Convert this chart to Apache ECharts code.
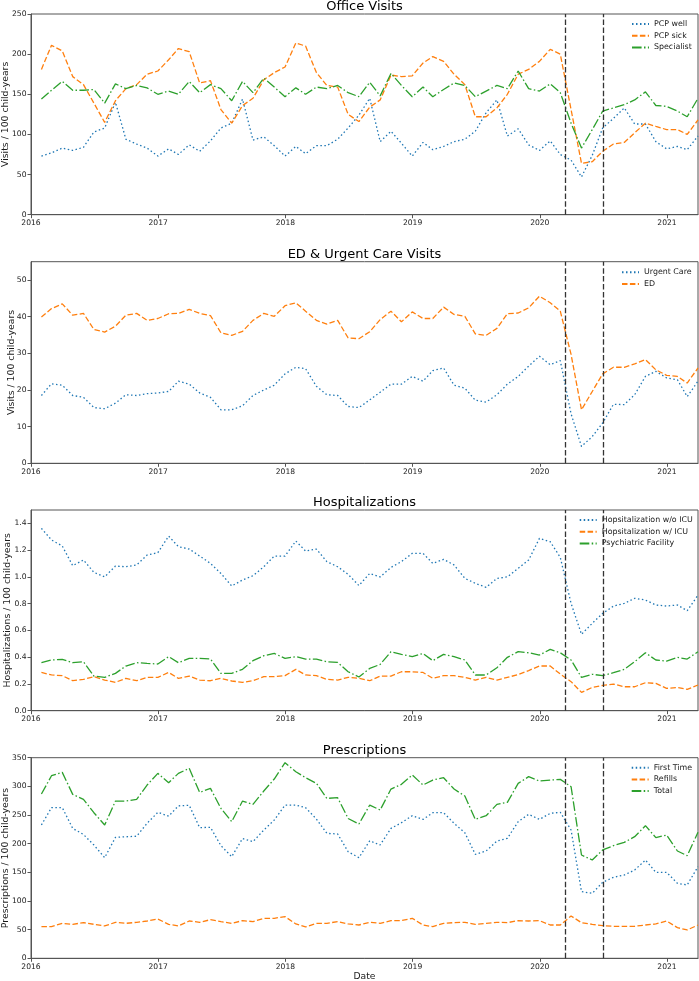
<!DOCTYPE html>
<html>
<head>
<meta charset="utf-8">
<script src="https://cdn.jsdelivr.net/npm/echarts@6/dist/echarts.min.js"></script>
<style>
html,body{margin:0;padding:0;background:#fff;}
#chart{width:699px;height:981px;}
</style>
</head>
<body>
<div id="chart"></div>
<script>
// ---------- DATA ----------
const startMonth = '2016-01';
const monthCount = 63; // 2016-01 .. 2021-03 (month-end values)
const yearTicks = [2016, 2017, 2018, 2019, 2020, 2021];
const lockdownDates = ['2020-03-15', '2020-07-01'];

const pcpWell = [73, 77, 83, 80, 84, 103, 108, 140, 94, 88, 83, 73,
  82, 75, 87, 79, 92, 108, 114, 144, 93, 97, 86, 73,
  85, 76, 86, 86, 94, 108, 124, 145, 91, 104, 89, 73,
  90, 81, 85, 91, 94, 104, 127, 143, 98, 107, 87, 80,
  92, 75, 68, 47, 74, 108, 120, 133, 113, 113, 91, 82,
  85, 81, 98];
const pcpSick = [181, 211, 204, 172, 162, 139, 115, 142, 157, 162, 175, 179,
  193, 207, 203, 164, 167, 131, 114, 136, 145, 168, 177, 184,
  214, 210, 177, 161, 159, 125, 116, 134, 143, 174, 172, 173,
  189, 197, 191, 175, 162, 122, 122, 133, 150, 175, 181, 191,
  206, 200, 131, 64, 66, 79, 88, 90, 102, 114, 110, 106,
  106, 100, 118];
const specialist = [144, 155, 166, 155, 155, 156, 139, 163, 157, 161, 158, 150,
  154, 150, 166, 152, 162, 157, 142, 166, 152, 170, 159, 147,
  158, 150, 159, 157, 161, 152, 147, 165, 148, 176, 161, 147,
  159, 147, 156, 164, 161, 147, 154, 161, 157, 179, 157, 154,
  163, 152, 114, 83, 106, 129, 133, 137, 143, 153, 136, 135,
  129, 122, 145];

const urgentCare = [18.5, 21.7, 21.3, 18.5, 18, 15.2, 14.9, 16.4, 18.7, 18.5, 19, 19.2,
  19.6, 22.4, 21.6, 19.2, 18, 14.6, 14.6, 15.7, 18.5, 20, 21.3, 24.4,
  26.2, 25.8, 21, 18.7, 18.5, 15.5, 15.2, 17.3, 19.4, 21.6, 21.6, 23.7,
  22.4, 25.3, 26, 21.3, 20.5, 17.2, 16.7, 18.7, 21.6, 23.7, 26.5, 29.2,
  26.9, 28, 13.5, 4.6, 7.3, 11, 16.1, 16, 18.7, 23.7, 25.1, 23.3,
  22.8, 18.2, 22.4];
const edVisits = [39.9, 42.2, 43.5, 40.4, 40.9, 36.5, 35.8, 37.4, 40.4, 40.9, 39, 39.5,
  40.8, 40.9, 42, 40.9, 40.3, 35.6, 34.9, 36, 39, 40.9, 40.1, 43,
  43.8, 41.5, 39, 38, 39, 34.2, 34, 35.9, 39.2, 41.5, 38.6, 41.3,
  39.5, 39.5, 42.6, 40.6, 40.1, 35.3, 34.9, 36.8, 40.8, 41, 42.4, 45.6,
  43.8, 41.5, 29.7, 14.6, 19.6, 24.4, 26.2, 26.2, 27.1, 28.3, 25.5, 24,
  23.7, 21.9, 26];

const hospNoIcu = [1.363, 1.276, 1.231, 1.084, 1.126, 1.034, 1.0, 1.081, 1.076, 1.089, 1.163, 1.181,
  1.305, 1.226, 1.208, 1.156, 1.101, 1.026, 0.932, 0.977, 1.009, 1.076, 1.156, 1.156,
  1.268, 1.193, 1.208, 1.114, 1.076, 1.019, 0.935, 1.026, 1.0, 1.071, 1.114, 1.176,
  1.176, 1.101, 1.131, 1.089, 0.989, 0.952, 0.922, 0.989, 1.0, 1.064, 1.126, 1.288,
  1.263, 1.146, 0.802, 0.571, 0.653, 0.727, 0.782, 0.802, 0.84, 0.827, 0.79, 0.782,
  0.79, 0.747, 0.864];
const hospIcu = [0.286, 0.267, 0.262, 0.224, 0.234, 0.254, 0.229, 0.212, 0.242, 0.224, 0.249, 0.249,
  0.286, 0.242, 0.259, 0.229, 0.224, 0.242, 0.222, 0.212, 0.224, 0.254, 0.254, 0.262,
  0.309, 0.267, 0.262, 0.234, 0.229, 0.249, 0.242, 0.224, 0.259, 0.259, 0.291, 0.291,
  0.286, 0.242, 0.262, 0.262, 0.249, 0.229, 0.249, 0.229, 0.249, 0.27, 0.30, 0.334,
  0.334, 0.274, 0.217, 0.137, 0.174, 0.189, 0.199, 0.179, 0.179, 0.209, 0.204, 0.167,
  0.174, 0.159, 0.192];
const psychFacility = [0.359, 0.379, 0.384, 0.359, 0.366, 0.259, 0.249, 0.279, 0.334, 0.359, 0.354, 0.349,
  0.404, 0.359, 0.391, 0.391, 0.386, 0.279, 0.279, 0.309, 0.374, 0.411, 0.428, 0.391,
  0.404, 0.386, 0.386, 0.366, 0.361, 0.291, 0.252, 0.316, 0.346, 0.441, 0.421, 0.404,
  0.428, 0.374, 0.421, 0.404, 0.379, 0.267, 0.267, 0.321, 0.399, 0.441, 0.433, 0.416,
  0.458, 0.433, 0.379, 0.249, 0.272, 0.262, 0.284, 0.309, 0.366, 0.433, 0.379, 0.371,
  0.399, 0.386, 0.441];

const firstTime = [232.6, 263, 262.8, 226.7, 216, 197.7, 175.6, 211, 212, 213, 235.5, 254.7,
  248, 266, 266.9, 228, 228.5, 196.5, 177.3, 209, 203.5, 223.8, 241.3, 267.4,
  267.4, 262.8, 243, 218, 216.9, 186, 175.6, 205, 197.7, 226.7, 236.6, 248.8,
  242.4, 254, 254, 235.5, 219, 181.4, 187.2, 204.7, 209.3, 238.4, 251.2, 242.4,
  252.9, 254.7, 223.8, 116.3, 113.4, 132.6, 141.3, 145.3, 154, 171.5, 150, 150,
  130.8, 127.9, 160];
const refills = [55.2, 55.2, 61, 59.3, 62.2, 59.3, 56.4, 62.8, 61, 62.8, 65.1, 68.6,
  59.3, 56.4, 65.1, 62.8, 67.4, 64, 61, 65.7, 64, 69.8, 69.8, 72.7,
  59.9, 54.7, 61, 61, 64, 59.9, 58.1, 62.8, 61, 65.7, 65.7, 69.8,
  58.1, 55.2, 61, 62.2, 62.8, 59.3, 61, 62.8, 62.2, 65.7, 65.1, 65.7,
  58.1, 58.1, 73.8, 62.2, 59.3, 57, 55.8, 55.8, 55.8, 58.1, 59.9, 65.1,
  53.5, 49.4, 58.1];
const totalRx = [286.6, 318.6, 324.4, 286, 277.3, 254, 232.6, 274.4, 274.4, 277.3, 302.3, 322.7,
  306.4, 322.7, 331.4, 289.5, 296.5, 261.6, 238.4, 274.4, 268.6, 291.9, 312.8, 341.3,
  325.6, 315.1, 305.2, 279, 280.2, 244, 234.3, 267.4, 258.7, 295.3, 303.5, 319.8,
  302.3, 311, 315.1, 295.3, 283.1, 242.4, 248.8, 268.6, 272.1, 305.2, 316.9, 309.3,
  311, 312.2, 299.4, 180.2, 171.5, 189, 196.5, 202.3, 212.2, 231.4, 210.5, 215.1,
  187.2, 179, 219.8];

const panelTitles = ['Office Visits', 'ED & Urgent Care Visits', 'Hospitalizations', 'Prescriptions'];
const yLabels = ['Visits / 100 child-years', 'Visits / 100 child-years',
  'Hospitalizations / 100 child-years', 'Prescriptions / 100 child-years'];

// ---------- HELPERS ----------
function yearFrac(y, mIdx0, day) { // mIdx0: 0-based month
  const t = Date.UTC(y, mIdx0, day);
  const s = Date.UTC(y, 0, 1), e = Date.UTC(y + 1, 0, 1);
  return y + (t - s) / (e - s);
}
const [sy, sm] = startMonth.split('-').map(Number);
const monthEnds = [];
for (let k = 0; k < monthCount; k++) {
  const mm = sm - 1 + k;
  const y = sy + Math.floor(mm / 12), m = mm % 12;
  monthEnds.push(yearFrac(y, m + 1, 0)); // day 0 of next month = last day of month
}
const lockX = lockdownDates.map(s => { const [y, m, d] = s.split('-').map(Number); return yearFrac(y, m - 1, d); });
const xMax = monthEnds[monthEnds.length - 1];

const C_BLUE = '#1f77b4', C_ORANGE = '#ff7f0e', C_GREEN = '#2ca02c';
const DOT = [1.5, 2.5], DASH = [5.5, 2.4], DASHDOT = [9.6, 2.4, 1.5, 2.4];
const FRAME = '#555';
const TXT = '#1a1a1a';
const FONT = 'DejaVu Sans';

const grids = [
  {top: 14, height: 200.7},
  {top: 261.7, height: 201.6},
  {top: 510, height: 200.7},
  {top: 757.7, height: 200.6}
].map(g => Object.assign({left: 31, right: 1, show: true, borderColor: FRAME, borderWidth: 1,
  backgroundColor: 'transparent', containLabel: false, outerBoundsMode: 'none'}, g));

const yCfg = [
  {max: 250, interval: 50, gap: 20.5, showMax: true, fmt: v => String(v)},
  {max: 55, interval: 10, gap: 15, showMax: false, fmt: v => String(v)},
  {max: 1.5, interval: 0.2, gap: 19, showMax: false, fmt: v => v.toFixed(1)},
  {max: 350, interval: 50, gap: 20.5, showMax: true, fmt: v => String(v)}
];

const xAxes = grids.map((g, i) => ({
  type: 'value', gridIndex: i, min: yearTicks[0], max: xMax, interval: 1,
  axisLine: {show: true, lineStyle: {color: FRAME, width: 1}},
  axisTick: {show: true, length: 3.5, lineStyle: {color: FRAME}},
  splitLine: {show: false},
  axisLabel: {
    show: true, fontSize: 7.6, color: TXT, fontFamily: FONT, margin: 4.5,
    showMaxLabel: false,
    formatter: v => (yearTicks.some(t => Math.abs(t - v) < 1e-6) ? String(Math.round(v)) : '')
  },
  name: i === 3 ? 'Date' : '',
  nameLocation: 'middle', nameGap: 14, nameMoveOverlap: false,
  nameTextStyle: {fontSize: 9.2, color: TXT, fontFamily: FONT}
}));

const yAxes = yCfg.map((c, i) => ({
  type: 'value', gridIndex: i, min: 0, max: c.max, interval: c.interval,
  axisLine: {show: true, lineStyle: {color: FRAME, width: 1}},
  axisTick: {show: true, length: 3.5, lineStyle: {color: FRAME}},
  splitLine: {show: false},
  axisLabel: {fontSize: 7.6, color: TXT, fontFamily: FONT, margin: 4.5, showMaxLabel: c.showMax, formatter: c.fmt},
  name: yLabels[i], nameLocation: 'middle', nameGap: c.gap, nameMoveOverlap: false,
  nameTextStyle: {fontSize: 9.3, color: TXT, fontFamily: FONT}
}));

function mkSeries(name, values, idx, color, dash, withMark) {
  const s = {
    name, type: 'line', xAxisIndex: idx, yAxisIndex: idx,
    data: values.map((v, k) => [monthEnds[k], v]),
    symbol: 'none', showSymbol: false, smooth: false, animation: false,
    lineStyle: {color, width: 1.3, type: dash},
    itemStyle: {color},
    z: 3
  };
  if (withMark) {
    s.markLine = {
      silent: true, symbol: ['none', 'none'], animation: false,
      label: {show: false},
      lineStyle: {color: '#333', width: 1.3, type: DASH},
      data: lockX.map(x => ({xAxis: x}))
    };
  }
  return s;
}

const series = [
  mkSeries('PCP well', pcpWell, 0, C_BLUE, DOT, true),
  mkSeries('PCP sick', pcpSick, 0, C_ORANGE, DASH, false),
  mkSeries('Specialist', specialist, 0, C_GREEN, DASHDOT, false),
  mkSeries('Urgent Care', urgentCare, 1, C_BLUE, DOT, true),
  mkSeries('ED', edVisits, 1, C_ORANGE, DASH, false),
  mkSeries('Hopsitalization w/o ICU', hospNoIcu, 2, C_BLUE, DOT, true),
  mkSeries('Hopsitalization w/ ICU', hospIcu, 2, C_ORANGE, DASH, false),
  mkSeries('Psychiatric Facility', psychFacility, 2, C_GREEN, DASHDOT, false),
  mkSeries('First Time', firstTime, 3, C_BLUE, DOT, true),
  mkSeries('Refills', refills, 3, C_ORANGE, DASH, false),
  mkSeries('Total', totalRx, 3, C_GREEN, DASHDOT, false)
];

function mkLegend(names, left, top) {
  return {
    data: names, orient: 'vertical', left, top,
    itemWidth: 17, itemHeight: 10, itemGap: 1.7,
    selectedMode: false,
    itemStyle: {opacity: 0, borderWidth: 0},
    textStyle: {fontSize: 7.9, color: TXT, fontFamily: FONT, lineHeight: 10},
    padding: 0
  };
}
const legends = [
  mkLegend(['PCP well', 'PCP sick', 'Specialist'], 631, 19),
  mkLegend(['Urgent Care', 'ED'], 621, 267.3),
  mkLegend(['Hopsitalization w/o ICU', 'Hopsitalization w/ ICU', 'Psychiatric Facility'], 578.7, 515),
  mkLegend(['First Time', 'Refills', 'Total'], 630.7, 762.7)
];

const titleGraphics = panelTitles.map((t, i) => ({
  type: 'text', x: 364.5, y: Math.max(0.5, grids[i].top - 14), silent: true,
  style: {text: t, fontSize: 13, fontFamily: FONT, fill: '#000', textAlign: 'center', textVerticalAlign: 'top'}
}));

const chart = echarts.init(document.getElementById('chart'), null, {renderer: 'canvas'});
chart.setOption({
  animation: false,
  backgroundColor: '#fff',
  textStyle: {fontFamily: FONT},
  grid: grids,
  xAxis: xAxes,
  yAxis: yAxes,
  legend: legends,
  series,
  graphic: titleGraphics
});
</script>
</body>
</html>
